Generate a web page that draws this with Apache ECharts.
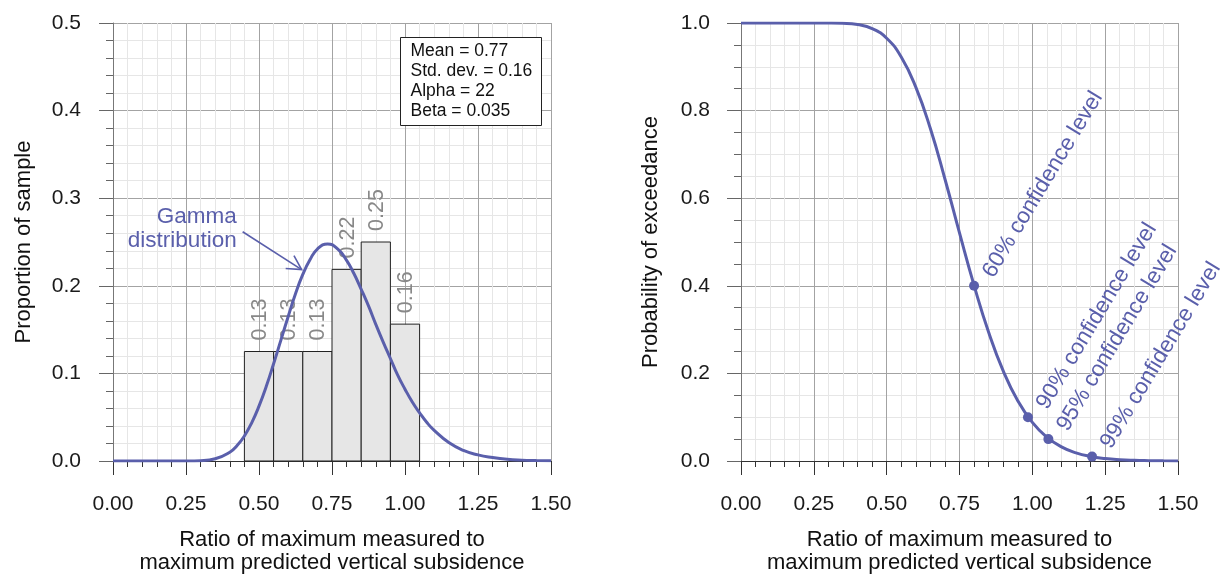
<!DOCTYPE html>
<html><head><meta charset="utf-8">
<script src="https://cdn.jsdelivr.net/npm/echarts@6/dist/echarts.min.js"></script>
<style>html,body{margin:0;padding:0;background:#fff}#c{width:1223px;height:579px}</style>
</head><body><div id="c"></div>
<script>
// ---- data ----
const pdfX = [0.00,0.05,0.10,0.15,0.20,0.25,0.30,0.35,0.40,0.425,0.45,0.475,0.50,0.525,0.55,0.575,0.60,0.625,0.65,0.675,0.70,0.735,0.77,0.80,0.825,0.85,0.875,0.90,0.925,0.95,0.975,1.00,1.025,1.05,1.075,1.10,1.15,1.20,1.25,1.30,1.35,1.40,1.45,1.50];
const gammaCurve = [0,0,0,0,0,0.00004,0.0004,0.0025,0.010,0.0176,0.0286,0.0436,0.0626,0.0853,0.111,0.138,0.165,0.191,0.213,0.230,0.242,0.2478,0.242,0.229,0.214,0.196,0.177,0.156,0.136,0.117,0.098,0.082,0.0674,0.055,0.0439,0.035,0.021,0.012,0.007,0.004,0.002,0.001,0.0005,0.0002];
const ratioX = [0.00,0.05,0.10,0.15,0.20,0.25,0.30,0.35,0.40,0.45,0.50,0.55,0.60,0.65,0.70,0.75,0.80,0.85,0.90,0.95,1.00,1.05,1.10,1.15,1.20,1.25,1.30,1.35,1.40,1.45,1.50];
const exceedance = [1,1,1,1,1,1,0.9999,0.9993,0.9964,0.9874,0.9652,0.9223,0.8536,0.759,0.6438,0.5206,0.4009,0.2939,0.2057,0.1377,0.0882,0.0543,0.0324,0.0186,0.0104,0.0056,0.0029,0.0015,0.0008,0.0004,0.0002];
const binLow = [0.45,0.55,0.65,0.75,0.85,0.95];
const binHigh = [0.55,0.65,0.75,0.85,0.95,1.05];
const proportions = [0.125,0.125,0.125,0.21875,0.25,0.15625];
const proportionLabels = ['0.13','0.13','0.13','0.22','0.25','0.16'];
const confX = [0.80,0.985,1.055,1.205];
const confY = [0.40,0.10,0.05,0.01];
const confLabels = ['60% confidence level','90% confidence level','95% confidence level','99% confidence level'];
const statsLines = ['Mean = 0.77','Std. dev. = 0.16','Alpha = 22','Beta = 0.035'];
const xTitle = 'Ratio of maximum measured to\nmaximum predicted vertical subsidence';
const yTitleLeft = 'Proportion of sample';
const yTitleRight = 'Probability of exceedance';
const gammaText = 'Gamma\ndistribution';

// ---- styling ----
const FONT = '"Liberation Sans", Arial, sans-serif';
const BLUE = '#5a5fab';
const MAJOR = '#a3a3a3';
const MINOR = '#e6e6e6';

function xAxisCfg(gridIndex){
  return {
    type:'value', gridIndex, min:0, max:1.5, interval:0.25,
    name:xTitle, nameLocation:'middle', nameGap:67,
    nameTextStyle:{fontFamily:FONT,fontSize:22,color:'#111',lineHeight:23},
    axisLine:{show:true,lineStyle:{color:'#333',width:1}},
    axisTick:{show:true,length:14,lineStyle:{color:'#333'}},
    minorTick:{show:true,splitNumber:5,length:6,lineStyle:{color:'#333'}},
    axisLabel:{fontFamily:FONT,fontSize:21,color:'#1a1a1a',margin:33,formatter:v=>v.toFixed(2)},
    splitLine:{show:true,lineStyle:{color:MAJOR,width:1}},
    minorSplitLine:{show:true,lineStyle:{color:MINOR,width:1}}
  };
}
function yAxisCfg(gridIndex,max,interval,minorSplit,name,nameGap,margin){
  return {
    type:'value', gridIndex, min:0, max, interval,
    name, nameLocation:'middle', nameGap,
    nameTextStyle:{fontFamily:FONT,fontSize:22,color:'#111'},
    axisLine:{show:true,lineStyle:{color:'#777',width:1}},
    axisTick:{show:true,length:14,lineStyle:{color:'#666'}},
    minorTick:{show:true,splitNumber:minorSplit,length:7,lineStyle:{color:'#666'}},
    axisLabel:{fontFamily:FONT,fontSize:21,color:'#1a1a1a',margin,formatter:v=>v.toFixed(1)},
    splitLine:{show:true,lineStyle:{color:MAJOR,width:1}},
    minorSplitLine:{show:true,lineStyle:{color:MINOR,width:1}}
  };
}

const chart = echarts.init(document.getElementById('c'), null, {renderer:'canvas'});
const option = {
  animation:false,
  backgroundColor:'#fff',
  grid:[
    {left:113, top:23, width:438, height:440},
    {left:741, top:23, width:437, height:440}
  ],
  xAxis:[xAxisCfg(0), xAxisCfg(1)],
  yAxis:[
    yAxisCfg(0,0.5,0.1,5,yTitleLeft,78,32),
    yAxisCfg(1,1.0,0.2,4,yTitleRight,79,31)
  ],
  series:[
    {
      type:'custom', xAxisIndex:0, yAxisIndex:0, z:2,
      data: proportions.map((p,i)=>[binLow[i], binHigh[i], p]),
      renderItem(params, api){
        const p0 = api.coord([api.value(0), api.value(2)]);
        const p1 = api.coord([api.value(1), 0]);
        return {type:'group', children:[
          {type:'rect', shape:{x:p0[0], y:p0[1], width:p1[0]-p0[0], height:p1[1]-p0[1]},
           style:{fill:'#e6e6e6', stroke:'#222', lineWidth:1}},
          {type:'text', x:(p0[0]+p1[0])/2+1, y:p0[1]-11, rotation:Math.PI/2,
           style:{text:proportionLabels[params.dataIndex], fill:'#888888', fontFamily:FONT, fontSize:21.5, align:'left', verticalAlign:'middle'}}
        ]};
      }
    },
    {
      type:'line', xAxisIndex:0, yAxisIndex:0, z:5,
      data: pdfX.map((x,i)=>[x, gammaCurve[i]]),
      smooth:0.5, showSymbol:false, symbol:'none',
      lineStyle:{color:BLUE, width:3}
    },
    {
      // "Gamma distribution" annotation with arrow
      type:'custom', xAxisIndex:0, yAxisIndex:0, z:6,
      data:[[0.4235,0.2648,0.444,0.2617,0.646,0.2185]],
      renderItem(params, api){
        const t = api.coord([api.value(0), api.value(1)]);
        const a = api.coord([api.value(2), api.value(3)]);
        const b = api.coord([api.value(4), api.value(5)]);
        const ang = Math.atan2(b[1]-a[1], b[0]-a[0]);
        const L = 16, h = 0.5;
        const w1 = [b[0]-L*Math.cos(ang-h), b[1]-L*Math.sin(ang-h)];
        const w2 = [b[0]-L*Math.cos(ang+h), b[1]-L*Math.sin(ang+h)];
        return {type:'group', children:[
          {type:'text', x:t[0], y:t[1], style:{text:gammaText, fill:BLUE, fontFamily:FONT, fontSize:22.5, lineHeight:24, align:'right', verticalAlign:'middle'}},
          {type:'polyline', shape:{points:[a,b]}, style:{stroke:BLUE, lineWidth:1.6, fill:null}},
          {type:'polyline', shape:{points:[w1,b,w2]}, style:{stroke:BLUE, lineWidth:1.6, fill:null}}
        ]};
      }
    },
    {
      type:'line', xAxisIndex:1, yAxisIndex:1, z:5,
      data: ratioX.map((x,i)=>[x, exceedance[i]]),
      smooth:true, showSymbol:false, symbol:'none',
      lineStyle:{color:BLUE, width:3}
    },
    {
      type:'scatter', xAxisIndex:1, yAxisIndex:1, z:6,
      data: confX.map((x,i)=>[x, confY[i]]),
      symbol:'circle', symbolSize:10,
      itemStyle:{color:BLUE, opacity:1},
      label:{show:true, formatter:p=>confLabels[p.dataIndex], position:[19,-5], rotate:59,
             align:'left', verticalAlign:'middle', color:BLUE, fontFamily:FONT, fontSize:22.5}
    }
  ],
  graphic:[
    {type:'group', left:400, top:37, z:100, children:[
      {type:'rect', z:100, shape:{x:0,y:0,width:141,height:88}, style:{fill:'#fff', stroke:'#222', lineWidth:1}},
      {type:'text', z:101, x:10, y:4, style:{text:statsLines.join('\n'), fill:'#111', fontFamily:FONT, fontSize:17.5, lineHeight:20, verticalAlign:'top'}}
    ]}
  ]
};
chart.setOption(option);
</script></body></html>
